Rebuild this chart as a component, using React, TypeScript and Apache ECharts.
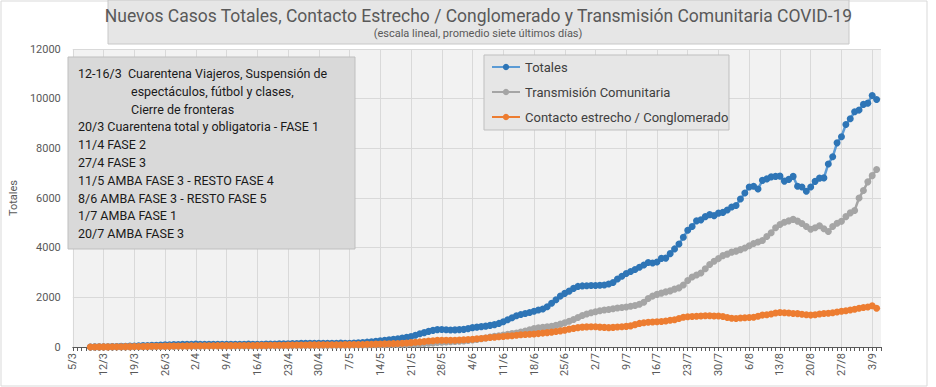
import React, { useEffect, useRef } from "react";
import * as echarts from "echarts";

// Category axis: daily dates 5/3/2020 .. 5/9/2020
const START = new Date(2020, 2, 5);
const DAY_COUNT = 185;
const dates: string[] = [];
for (let i = 0; i < DAY_COUNT; i++) {
  const d = new Date(START.getFullYear(), START.getMonth(), START.getDate() + i);
  dates.push(`${d.getDate()}/${d.getMonth() + 1}`);
}

// Values start on 9/3 (4 empty days before)
const leadingEmpty = 4;

const totales = [
  3, 4, 6, 8, 12, 15, 20,
  25, 30, 36, 42, 50, 55, 60,
  66, 72, 78, 85, 90, 95, 100,
  105, 110, 112, 115, 113, 112, 110,
  108, 110, 112, 110, 108, 105, 110,
  112, 115, 110, 108, 112, 115, 118,
  120, 125, 128, 130, 135, 140, 150,
  152, 150, 148, 145, 150, 148, 145,
  150, 155, 150, 148, 155, 165, 180,
  195, 210, 230, 250, 270, 290, 310,
  330, 360, 390, 420, 470, 530, 580,
  630, 670, 700, 705, 695, 685, 690,
  700, 710, 740, 780, 800, 820, 840,
  870, 900, 950, 1020, 1100, 1180, 1260,
  1310, 1350, 1390, 1440, 1490, 1530, 1620,
  1760, 1900, 2050, 2160, 2250, 2360, 2440,
  2460, 2470, 2475, 2480, 2490, 2500, 2540,
  2600, 2740, 2850, 2960, 3040, 3120, 3210,
  3300, 3400, 3380, 3420, 3570, 3580, 3760,
  3950, 4150, 4420, 4700, 4850, 5080, 5120,
  5250, 5330, 5290, 5390, 5420, 5520, 5640,
  5700, 5960, 6200, 6440, 6470, 6360, 6710,
  6770, 6850, 6870, 6880, 6680, 6750, 6870,
  6470, 6440, 6270, 6440, 6670, 6800, 6810,
  7370, 7660, 8220, 8470, 8960, 9190, 9470,
  9540, 9770, 9820, 10130, 9970,
];

const comunitaria = [
  0, 0, 1, 1, 2, 2, 3,
  4, 5, 6, 8, 10, 12, 14,
  16, 18, 20, 22, 24, 26, 28,
  30, 32, 34, 35, 36, 37, 38,
  38, 39, 40, 40, 40, 41, 42,
  42, 43, 44, 44, 45, 46, 47,
  48, 50, 52, 54, 56, 58, 60,
  62, 63, 64, 64, 65, 66, 68,
  70, 72, 74, 76, 78, 80, 82,
  85, 88, 90, 92, 95, 98, 100,
  104, 108, 112, 118, 124, 130, 140,
  150, 165, 180, 190, 200, 210, 220,
  230, 245, 260, 280, 300, 330, 360,
  400, 430, 450, 480, 510, 540, 565,
  600, 640, 690, 740, 770, 790, 810,
  830, 870, 920, 980, 1040, 1110, 1190,
  1270, 1330, 1380, 1420, 1460, 1490, 1510,
  1540, 1570, 1590, 1610, 1640, 1670, 1720,
  1800, 1950, 2050, 2120, 2170, 2220, 2260,
  2330, 2380, 2500, 2680, 2820, 2900, 2980,
  3150, 3320, 3450, 3560, 3680, 3740, 3820,
  3860, 3920, 3990, 4080, 4170, 4230, 4290,
  4450, 4600, 4800, 4930, 5020, 5080, 5140,
  5070, 4970, 4850, 4740, 4800, 4880, 4760,
  4650, 4850, 4980, 5060, 5250, 5400, 5500,
  6000, 6300, 6650, 6900, 7150,
];

const contacto = [
  2, 3, 4, 5, 6, 8, 10,
  12, 14, 16, 18, 20, 22, 25,
  28, 30, 32, 34, 36, 38, 40,
  42, 44, 46, 48, 50, 50, 52,
  52, 54, 55, 55, 56, 58, 60,
  60, 62, 62, 64, 65, 66, 68,
  70, 72, 74, 76, 78, 80, 82,
  84, 85, 86, 86, 88, 88, 90,
  92, 94, 95, 96, 98, 100, 104,
  108, 112, 116, 120, 125, 130, 135,
  140, 150, 160, 175, 190, 205, 220,
  240, 255, 270, 275, 275, 272, 275,
  280, 290, 300, 315, 330, 345, 365,
  380, 395, 410, 425, 440, 455, 475,
  490, 500, 510, 520, 540, 560, 580,
  600, 625, 650, 680, 720, 750, 780,
  800, 810, 815, 812, 800, 790, 780,
  790, 805, 815, 830, 850, 900, 950,
  980, 1000, 1010, 1015, 1030, 1050, 1080,
  1100, 1150, 1200, 1220, 1230, 1240, 1250,
  1255, 1255, 1250, 1250, 1230, 1190, 1160,
  1150, 1165, 1180, 1190, 1200, 1240, 1285,
  1300, 1330, 1370, 1390, 1380, 1370, 1350,
  1345, 1320, 1300, 1285, 1300, 1330, 1350,
  1360, 1380, 1410, 1440, 1460, 1490, 1520,
  1560, 1590, 1610, 1660, 1560,
];

const seriesNames = [
  "Totales",
  "Transmisión Comunitaria",
  "Contacto estrecho / Conglomerado",
];

const titleText =
  "Nuevos Casos Totales, Contacto Estrecho / Conglomerado y Transmisión Comunitaria COVID-19";
const subtitleText = "(escala lineal, promedio siete últimos días)";
const yAxisName = "Totales";

const noteLines = [
  "12-16/3  Cuarentena Viajeros, Suspensión de",
  "espectáculos, fútbol y clases,",
  "Cierre de fronteras",
  "20/3 Cuarentena total y obligatoria - FASE 1",
  "11/4 FASE 2",
  "27/4 FASE 3",
  "11/5 AMBA FASE 3 - RESTO FASE 4",
  "8/6 AMBA FASE 3 - RESTO FASE 5",
  "1/7 AMBA FASE 1",
  "20/7 AMBA FASE 3",
];
const indentedNotes = [1, 2];

const FONT = "Roboto, 'Open Sans', sans-serif";

function pad(values: number[]) {
  const out: (number | null)[] = [];
  for (let i = 0; i < leadingEmpty; i++) out.push(null);
  return out.concat(values);
}

export default function App() {
  const ref = useRef<HTMLDivElement>(null);

  useEffect(() => {
    document.body.style.margin = "0";
    if (!ref.current) return;
    const chart = echarts.init(ref.current, undefined, { renderer: "svg" });

    const noteElements: any[] = noteLines.map((t, i) => ({
      type: "text",
      x: indentedNotes.includes(i) ? 131 : 78,
      y: 73.5 + i * 17.8,
      z: 11,
      style: {
        text: t,
        fill: "#1a1a1a",
        font: `12.5px ${FONT}`,
        verticalAlign: "middle",
      },
    }));

    const lineSeries = (name: string, data: number[], line: string, dot: string) => ({
      name,
      type: "line",
      data: pad(data),
      symbol: "circle",
      symbolSize: 7,
      showSymbol: true,
      showAllSymbol: true,
      lineStyle: { color: line, width: 2.5 },
      itemStyle: { color: dot },
    });

    const option: any = {
      animation: false,
      backgroundColor: "#ffffff",
      textStyle: { fontFamily: FONT },
      grid: {
        left: 60,
        right: 55,
        top: 49,
        height: 298,
        show: true,
        backgroundColor: "#f2f2f2",
        borderWidth: 0,
      },
      legend: {
        orient: "vertical",
        left: 486,
        top: 55,
        z: 20,
        itemWidth: 28,
        itemHeight: 8,
        itemGap: 11,
        textStyle: { color: "#404040", fontSize: 13, lineHeight: 14, fontFamily: FONT },
        data: seriesNames,
      },
      xAxis: {
        type: "category",
        data: dates,
        boundaryGap: false,
        axisLine: { lineStyle: { color: "#595959", width: 1 } },
        axisTick: {
          show: true,
          interval: 0,
          length: 4,
          lineStyle: { color: "#595959" },
        },
        axisLabel: {
          interval: 6,
          rotate: 90,
          color: "#595959",
          fontSize: 11,
          margin: 6,
          fontFamily: FONT,
        },
        splitLine: {
          show: true,
          interval: 6,
          lineStyle: { color: "#d9d9d9", width: 1 },
        },
      },
      yAxis: {
        type: "value",
        min: 0,
        max: 12000,
        interval: 2000,
        name: yAxisName,
        nameLocation: "middle",
        nameGap: 42,
        nameTextStyle: { color: "#595959", fontSize: 11, fontFamily: FONT },
        axisLine: { show: false },
        axisTick: { show: false },
        axisLabel: {
          color: "#595959",
          fontSize: 11,
          margin: 12,
          fontFamily: FONT,
          formatter: (v: number) => String(v),
        },
        splitLine: { lineStyle: { color: "#d9d9d9", width: 1 } },
      },
      series: [
        lineSeries(seriesNames[0], totales, "#5b9bd5", "#2e75b6"),
        lineSeries(seriesNames[1], comunitaria, "#a5a5a5", "#a5a5a5"),
        lineSeries(seriesNames[2], contacto, "#ed7d31", "#ed7d31"),
      ],
      graphic: [
        {
          type: "rect",
          z: 1,
          shape: { x: 1, y: 1, width: 926, height: 385 },
          style: { fill: "none", stroke: "#d9d9d9", lineWidth: 1 },
          silent: true,
        },
        {
          type: "rect",
          z: 10,
          shape: { x: 108, y: 0, width: 741, height: 44 },
          style: { fill: "#e6e6e6", stroke: "#c8c8c8", lineWidth: 1 },
        },
        {
          type: "text",
          z: 11,
          x: 478.5,
          y: 16,
          style: {
            text: titleText,
            fill: "#595959",
            font: `17.5px ${FONT}`,
            align: "center",
            verticalAlign: "middle",
          },
        },
        {
          type: "text",
          z: 11,
          x: 478,
          y: 33,
          style: {
            text: subtitleText,
            fill: "#595959",
            font: `11px ${FONT}`,
            align: "center",
            verticalAlign: "middle",
          },
        },
        {
          type: "rect",
          z: 10,
          shape: { x: 68, y: 57, width: 287, height: 192 },
          style: { fill: "#d9d9d9", stroke: "#bfbfbf", lineWidth: 1 },
        },
        ...noteElements,
        {
          type: "rect",
          z: 10,
          shape: { x: 484, y: 55, width: 245, height: 75 },
          style: { fill: "#e6e6e6", stroke: "#bfbfbf", lineWidth: 1 },
        },
      ],
    };

    chart.setOption(option);
    return () => chart.dispose();
  }, []);

  return <div ref={ref} style={{ width: 936, height: 387 }} />;
}
